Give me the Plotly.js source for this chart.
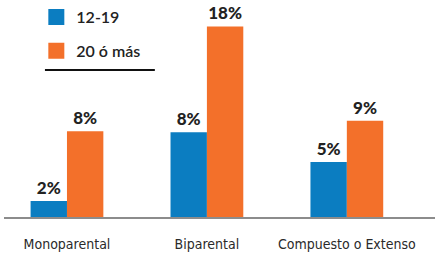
<!DOCTYPE html>
<html><head><meta charset="utf-8">
<script src="https://cdn.plot.ly/plotly-3.0.1.min.js"></script>
<style>html,body{margin:0;padding:0;background:#fff}#chart{width:435px;height:254px}</style>
</head><body><div id="chart"></div>
<script>
var categories = ["Monoparental", "Biparental", "Compuesto o Extenso"];
var seriesNames = ["12-19", "20 ó más"];
var values1219 = [1.5, 8, 5.2];
var values20mas = [8.1, 18, 9.1];
var labels1219 = ["2%", "8%", "5%"];
var labels20mas = ["8%", "18%", "9%"];
var colors = ["#0b7dc1", "#f3702a"];

var labelFont = {family: "Lato, 'DejaVu Sans', sans-serif", size: 17, color: "#222", weight: 900};

function barTrace(vals, txt, color) {
  return {
    type: "bar", x: categories, y: vals, text: txt,
    textposition: "outside", textfont: labelFont, cliponaxis: false,
    marker: {color: color}, showlegend: false, hoverinfo: "skip"
  };
}
function legendTrace(name, color, grp) {
  return {
    type: "scatter", mode: "markers", x: [null], y: [null], name: name,
    legendgroup: grp,
    marker: {symbol: "square", size: 16, color: color}
  };
}

var data = [
  barTrace(values1219, labels1219, colors[0]),
  barTrace(values20mas, labels20mas, colors[1]),
  legendTrace(seriesNames[0], colors[0], "a"),
  legendTrace(seriesNames[1], colors[1], "b")
];

var layout = {
  width: 435, height: 254,
  margin: {l: 4, r: 0, t: 0, b: 37},
  paper_bgcolor: "#fff", plot_bgcolor: "#fff",
  barmode: "group", bargap: 0.48, bargroupgap: 0,
  xaxis: {
    type: "category", range: [-0.45, 2.63],
    showline: true, linecolor: "#8c8c8c", linewidth: 2,
    ticks: "", ticklabelstandoff: 13,
    tickfont: {family: "'Liberation Sans Narrow', 'DejaVu Sans Condensed', sans-serif", size: 14, color: "#2a2a2a"},
    showgrid: false, zeroline: false, fixedrange: true
  },
  yaxis: {range: [0, 20.5], visible: false, showgrid: false, zeroline: false, fixedrange: true},
  showlegend: true,
  legend: {
    x: 0.075, y: 1.0, xanchor: "left", yanchor: "top",
    bgcolor: "rgba(0,0,0,0)", tracegroupgap: 10,
    font: {family: "Lato, 'DejaVu Sans', sans-serif", size: 16, color: "#222", weight: 600}
  },
  shapes: [{
    type: "line", xref: "paper", yref: "paper",
    x0: 0.095, x1: 0.35, y0: 0.677, y1: 0.677,
    line: {color: "#111", width: 2}
  }]
};

Plotly.newPlot("chart", data, layout, {displayModeBar: false, staticPlot: true});
</script></body></html>
